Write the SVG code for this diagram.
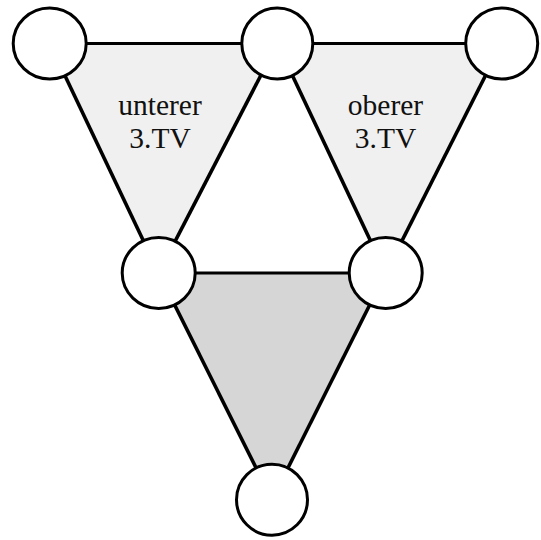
<svg xmlns="http://www.w3.org/2000/svg" width="541" height="540" viewBox="0 0 541 540">
<style>
.node{fill:#fff;stroke:#000;stroke-width:3}
.edge{stroke:#000;stroke-width:3.6;fill:none}
.h{stroke-width:3}
.lbl{font-family:"Liberation Serif","Times New Roman",serif;font-size:29.5px;fill:#111;text-anchor:middle}
</style>
<g id="areas">
<polygon points="49.7,43.5 277.3,43.5 158.7,273" fill="#f0f0f0"/>
<polygon points="277.3,43.5 501.7,43.5 385.7,273" fill="#f0f0f0"/>
<polygon points="158.7,273 385.7,273 272,499.7" fill="#d6d6d6"/>
</g>
<g id="connectors">
<line class="edge h" x1="49.7" y1="43.5" x2="277.3" y2="43.5"/>
<line class="edge h" x1="277.3" y1="43.5" x2="501.7" y2="43.5"/>
<line class="edge h" x1="158.7" y1="273" x2="385.7" y2="273"/>
<line class="edge" x1="49.7" y1="43.5" x2="158.7" y2="273"/>
<line class="edge" x1="277.3" y1="43.5" x2="158.7" y2="273"/>
<line class="edge" x1="277.3" y1="43.5" x2="385.7" y2="273"/>
<line class="edge" x1="501.7" y1="43.5" x2="385.7" y2="273"/>
<line class="edge" x1="158.7" y1="273" x2="272" y2="499.7"/>
<line class="edge" x1="385.7" y1="273" x2="272" y2="499.7"/>
</g>
<g id="label-unterer"><text class="lbl" x="160" y="115">unterer</text><text class="lbl" x="160" y="148">3.TV</text></g>
<g id="label-oberer"><text class="lbl" x="385.5" y="115">oberer</text><text class="lbl" x="385.5" y="148">3.TV</text></g>
<g id="n1"><ellipse class="node" cx="49.7" cy="43.5" rx="36.5" ry="35.5"/></g>
<g id="n2"><ellipse class="node" cx="277.3" cy="43.5" rx="35.5" ry="35.5"/></g>
<g id="n3"><ellipse class="node" cx="501.7" cy="43.5" rx="36" ry="35.5"/></g>
<g id="n4"><ellipse class="node" cx="158.7" cy="273" rx="36.5" ry="35.5"/></g>
<g id="n5"><ellipse class="node" cx="385.7" cy="273" rx="36.5" ry="35.5"/></g>
<g id="n6"><ellipse class="node" cx="272" cy="499.7" rx="35.5" ry="35.5"/></g>
</svg>
